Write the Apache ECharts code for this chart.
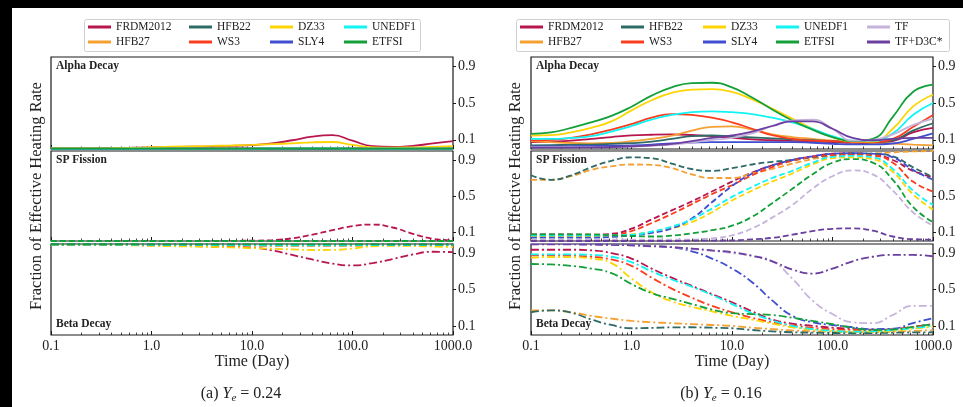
<!DOCTYPE html>
<html>
<head>
<meta charset="utf-8">
<script src="https://cdn.jsdelivr.net/npm/echarts@6/dist/echarts.min.js"></script>
<style>
html, body { margin: 0; padding: 0; background: #fff; }
#chart { width: 963px; height: 407px; }
</style>
</head>
<body>
<div id="chart"></div>
<script>
// Sample times (days), five per decade, shared by every curve
const days = [0.1, 0.158, 0.251, 0.398, 0.631, 1, 1.585, 2.512, 3.981, 6.31, 10,
  15.85, 25.12, 39.81, 63.1, 100, 158.5, 251.2, 398.1, 631, 1000];

// Decade tick labels and minor tick positions on the time axis
const timeTicks = [0.1, 1, 10, 100, 1000];
const minorTimeTicks = [0.2, 0.3, 0.4, 0.5, 0.6, 0.7, 0.8, 0.9, 2, 3, 4, 5, 6, 7, 8, 9,
  20, 30, 40, 50, 60, 70, 80, 90, 200, 300, 400, 500, 600, 700, 800, 900];
const fractionTicks = [0.1, 0.5, 0.9];

const modelsA = ['FRDM2012', 'HFB27', 'HFB22', 'WS3', 'DZ33', 'SLY4', 'UNEDF1', 'ETFSI'];
const modelsB = ['FRDM2012', 'HFB27', 'HFB22', 'WS3', 'DZ33', 'SLY4', 'UNEDF1', 'ETFSI', 'TF', 'TF+D3C*'];

// ---- Ye = 0.24 ----
const alphaA = {
  'FRDM2012': [0.008, 0.008, 0.009, 0.011, 0.014, 0.018, 0.021, 0.025, 0.029, 0.035, 0.042, 0.06, 0.095, 0.135, 0.15, 0.09, 0.03, 0.022, 0.035, 0.06, 0.085],
  'HFB27':    [0.003, 0.003, 0.003, 0.003, 0.003, 0.004, 0.004, 0.004, 0.004, 0.005, 0.005, 0.005, 0.005, 0.005, 0.005, 0.004, 0.004, 0.004, 0.004, 0.004, 0.004],
  'HFB22':    [0.003, 0.003, 0.003, 0.003, 0.003, 0.003, 0.003, 0.004, 0.004, 0.004, 0.005, 0.005, 0.005, 0.005, 0.005, 0.004, 0.004, 0.004, 0.004, 0.004, 0.004],
  'WS3':      [0.004, 0.004, 0.004, 0.004, 0.004, 0.005, 0.005, 0.005, 0.006, 0.006, 0.007, 0.007, 0.007, 0.007, 0.007, 0.006, 0.005, 0.005, 0.005, 0.005, 0.006],
  'DZ33':     [0.006, 0.006, 0.007, 0.008, 0.011, 0.02, 0.025, 0.029, 0.033, 0.038, 0.045, 0.053, 0.062, 0.072, 0.076, 0.045, 0.018, 0.015, 0.018, 0.024, 0.03],
  'SLY4':     [0.002, 0.002, 0.002, 0.002, 0.002, 0.003, 0.003, 0.003, 0.003, 0.003, 0.004, 0.004, 0.004, 0.004, 0.004, 0.003, 0.003, 0.003, 0.003, 0.003, 0.003],
  'UNEDF1':   [0.003, 0.003, 0.003, 0.003, 0.003, 0.004, 0.004, 0.004, 0.005, 0.005, 0.005, 0.006, 0.006, 0.006, 0.006, 0.005, 0.004, 0.004, 0.004, 0.004, 0.005],
  'ETFSI':    [0.003, 0.003, 0.003, 0.003, 0.003, 0.003, 0.004, 0.004, 0.004, 0.004, 0.004, 0.005, 0.005, 0.005, 0.005, 0.004, 0.004, 0.004, 0.004, 0.004, 0.004]
};
const fissionA = {
  'FRDM2012': [0, 0, 0, 0, 0, 0, 0, 0, 0.001, 0.002, 0.004, 0.01, 0.03, 0.07, 0.12, 0.165, 0.183, 0.15, 0.08, 0.025, 0.007],
  'HFB27':    [0, 0, 0, 0, 0, 0, 0, 0, 0, 0, 0, 0, 0, 0, 0, 0, 0, 0, 0, 0, 0],
  'HFB22':    [0, 0, 0, 0, 0, 0, 0, 0, 0, 0, 0, 0, 0, 0, 0, 0, 0, 0, 0, 0, 0],
  'WS3':      [0, 0, 0, 0, 0, 0, 0, 0, 0, 0, 0, 0, 0, 0, 0, 0, 0, 0, 0, 0, 0],
  'DZ33':     [0, 0, 0, 0, 0, 0, 0, 0, 0, 0, 0, 0, 0, 0, 0, 0, 0, 0, 0, 0, 0],
  'SLY4':     [0, 0, 0, 0, 0, 0, 0, 0, 0, 0, 0, 0, 0, 0, 0, 0, 0, 0, 0, 0, 0],
  'UNEDF1':   [0, 0, 0, 0, 0, 0, 0, 0, 0, 0, 0, 0, 0, 0, 0, 0, 0, 0, 0, 0, 0],
  'ETFSI':    [0, 0, 0, 0, 0, 0, 0, 0, 0, 0, 0, 0, 0, 0, 0, 0, 0, 0, 0, 0, 0]
};
const betaA = {
  'FRDM2012': [0.99, 0.99, 0.99, 0.99, 0.988, 0.985, 0.982, 0.978, 0.972, 0.967, 0.96, 0.93, 0.88, 0.83, 0.785, 0.764, 0.79, 0.835, 0.885, 0.915, 0.91],
  'HFB27':    [0.993, 0.993, 0.993, 0.993, 0.992, 0.99, 0.988, 0.986, 0.985, 0.983, 0.982, 0.98, 0.98, 0.98, 0.98, 0.982, 0.984, 0.986, 0.986, 0.986, 0.986],
  'HFB22':    [0.994, 0.994, 0.994, 0.994, 0.993, 0.992, 0.991, 0.99, 0.99, 0.989, 0.988, 0.987, 0.987, 0.987, 0.987, 0.988, 0.989, 0.99, 0.99, 0.99, 0.99],
  'WS3':      [0.992, 0.992, 0.992, 0.992, 0.991, 0.99, 0.989, 0.987, 0.986, 0.985, 0.985, 0.984, 0.984, 0.984, 0.984, 0.985, 0.986, 0.988, 0.988, 0.988, 0.988],
  'DZ33':     [0.99, 0.99, 0.99, 0.99, 0.986, 0.98, 0.976, 0.972, 0.968, 0.962, 0.955, 0.948, 0.94, 0.934, 0.935, 0.95, 0.975, 0.98, 0.978, 0.972, 0.965],
  'SLY4':     [0.995, 0.995, 0.995, 0.995, 0.995, 0.994, 0.993, 0.993, 0.992, 0.992, 0.991, 0.99, 0.99, 0.99, 0.99, 0.991, 0.992, 0.992, 0.992, 0.992, 0.992],
  'UNEDF1':   [0.994, 0.994, 0.994, 0.994, 0.993, 0.992, 0.991, 0.99, 0.989, 0.988, 0.987, 0.986, 0.986, 0.986, 0.986, 0.987, 0.988, 0.99, 0.99, 0.99, 0.99],
  'ETFSI':    [0.997, 0.997, 0.997, 0.997, 0.997, 0.996, 0.996, 0.996, 0.996, 0.995, 0.995, 0.995, 0.995, 0.995, 0.995, 0.995, 0.996, 0.996, 0.996, 0.996, 0.996]
};

// ---- Ye = 0.16 ----
const alphaB = {
  'FRDM2012': [0.075, 0.08, 0.09, 0.11, 0.13, 0.147, 0.155, 0.158, 0.152, 0.14, 0.12, 0.105, 0.095, 0.088, 0.082, 0.075, 0.066, 0.064, 0.085, 0.18, 0.23],
  'HFB27':    [0.085, 0.075, 0.065, 0.062, 0.065, 0.085, 0.11, 0.145, 0.2, 0.24, 0.245, 0.21, 0.16, 0.13, 0.11, 0.09, 0.08, 0.068, 0.058, 0.048, 0.04],
  'HFB22':    [0.04, 0.042, 0.045, 0.048, 0.055, 0.064, 0.08, 0.11, 0.14, 0.147, 0.136, 0.125, 0.115, 0.105, 0.095, 0.085, 0.078, 0.075, 0.095, 0.2, 0.28],
  'WS3':      [0.093, 0.1, 0.12, 0.16, 0.21, 0.27, 0.34, 0.38, 0.37, 0.34, 0.29, 0.22, 0.15, 0.11, 0.09, 0.085, 0.075, 0.075, 0.11, 0.24, 0.37],
  'DZ33':     [0.147, 0.15, 0.18, 0.23, 0.3, 0.42, 0.53, 0.61, 0.645, 0.65, 0.62, 0.54, 0.44, 0.33, 0.22, 0.13, 0.08, 0.08, 0.22, 0.46, 0.59],
  'SLY4':     [0.027, 0.028, 0.03, 0.033, 0.036, 0.04, 0.048, 0.06, 0.07, 0.075, 0.075, 0.075, 0.075, 0.075, 0.068, 0.057, 0.05, 0.05, 0.06, 0.11, 0.17],
  'UNEDF1':   [0.11, 0.11, 0.12, 0.14, 0.19, 0.25, 0.32, 0.37, 0.4, 0.41, 0.4, 0.38, 0.34, 0.29, 0.22, 0.14, 0.09, 0.09, 0.17, 0.37, 0.5],
  'ETFSI':    [0.165, 0.18, 0.23, 0.29, 0.36, 0.46, 0.58, 0.67, 0.715, 0.72, 0.67, 0.56, 0.43, 0.31, 0.21, 0.13, 0.085, 0.11, 0.35, 0.62, 0.7],
  'TF':       [0.02, 0.02, 0.02, 0.02, 0.021, 0.025, 0.035, 0.047, 0.07, 0.1, 0.12, 0.17, 0.25, 0.31, 0.32, 0.22, 0.09, 0.1, 0.16, 0.26, 0.33],
  'TF+D3C*':  [0.015, 0.015, 0.016, 0.018, 0.022, 0.03, 0.04, 0.055, 0.085, 0.12, 0.147, 0.19, 0.25, 0.3, 0.3, 0.22, 0.12, 0.095, 0.11, 0.12, 0.12]
};
const fissionB = {
  'FRDM2012': [0.074, 0.074, 0.072, 0.07, 0.08, 0.137, 0.24, 0.34, 0.44, 0.55, 0.66, 0.76, 0.84, 0.9, 0.94, 0.97, 0.975, 0.965, 0.9, 0.78, 0.71],
  'HFB27':    [0.68, 0.68, 0.72, 0.79, 0.83, 0.85, 0.845, 0.81, 0.74, 0.7, 0.7, 0.75, 0.8, 0.86, 0.91, 0.945, 0.96, 0.97, 0.985, 0.995, 1.0],
  'HFB22':    [0.73, 0.68, 0.73, 0.82, 0.89, 0.93, 0.92, 0.86, 0.8, 0.78, 0.81, 0.85, 0.88, 0.9, 0.93, 0.955, 0.97, 0.97, 0.94, 0.82, 0.71],
  'WS3':      [0.05, 0.05, 0.05, 0.05, 0.06, 0.11, 0.2, 0.3, 0.41, 0.52, 0.62, 0.73, 0.82, 0.89, 0.935, 0.955, 0.96, 0.95, 0.87, 0.66, 0.55],
  'DZ33':     [0.05, 0.05, 0.05, 0.05, 0.05, 0.074, 0.1, 0.14, 0.21, 0.32, 0.45, 0.56, 0.66, 0.75, 0.85, 0.92, 0.93, 0.91, 0.77, 0.52, 0.35],
  'SLY4':     [0.037, 0.037, 0.037, 0.038, 0.045, 0.063, 0.09, 0.14, 0.25, 0.43, 0.61, 0.75, 0.84, 0.9, 0.94, 0.97, 0.975, 0.97, 0.93, 0.79, 0.68],
  'UNEDF1':   [0.063, 0.063, 0.063, 0.063, 0.063, 0.07, 0.105, 0.16, 0.24, 0.36, 0.49, 0.6, 0.7, 0.78, 0.87, 0.935, 0.945, 0.93, 0.8, 0.56, 0.4],
  'ETFSI':    [0.074, 0.074, 0.074, 0.072, 0.065, 0.055, 0.05, 0.06, 0.085, 0.12, 0.17, 0.27, 0.42, 0.58, 0.74, 0.87, 0.91, 0.87, 0.68, 0.38, 0.21],
  'TF':       [0.014, 0.014, 0.014, 0.014, 0.014, 0.014, 0.014, 0.014, 0.016, 0.03, 0.063, 0.14, 0.26, 0.4, 0.58, 0.72, 0.785, 0.74, 0.56, 0.32, 0.17],
  'TF+D3C*':  [0, 0, 0, 0, 0, 0, 0, 0, 0.003, 0.005, 0.007, 0.018, 0.035, 0.07, 0.11, 0.135, 0.14, 0.115, 0.05, 0.02, 0.015]
};
const betaB = {
  'FRDM2012': [0.937, 0.937, 0.937, 0.93, 0.9, 0.84, 0.73, 0.63, 0.54, 0.45, 0.36, 0.26, 0.17, 0.125, 0.1, 0.08, 0.068, 0.058, 0.065, 0.09, 0.12],
  'HFB27':    [0.27, 0.27, 0.25, 0.21, 0.18, 0.155, 0.14, 0.13, 0.12, 0.11, 0.1, 0.08, 0.065, 0.05, 0.042, 0.037, 0.032, 0.03, 0.035, 0.045, 0.052],
  'HFB22':    [0.25, 0.27, 0.245, 0.17, 0.11, 0.074, 0.078, 0.084, 0.085, 0.08, 0.074, 0.055, 0.04, 0.03, 0.026, 0.022, 0.022, 0.022, 0.025, 0.028, 0.03],
  'WS3':      [0.874, 0.874, 0.872, 0.86, 0.83, 0.76, 0.63, 0.51, 0.41, 0.32, 0.25, 0.19, 0.14, 0.105, 0.08, 0.063, 0.055, 0.052, 0.06, 0.085, 0.12],
  'DZ33':     [0.85, 0.857, 0.855, 0.84, 0.79, 0.62, 0.47, 0.37, 0.31, 0.26, 0.21, 0.17, 0.125, 0.085, 0.06, 0.045, 0.037, 0.037, 0.045, 0.07, 0.09],
  'SLY4':     [1.0, 1.0, 1.0, 0.998, 0.995, 0.99, 0.98, 0.965, 0.92, 0.84, 0.73, 0.58, 0.38, 0.21, 0.14, 0.11, 0.085, 0.065, 0.07, 0.13, 0.185],
  'UNEDF1':   [0.885, 0.885, 0.885, 0.88, 0.86, 0.8, 0.7, 0.61, 0.53, 0.44, 0.34, 0.24, 0.16, 0.1, 0.065, 0.045, 0.037, 0.04, 0.055, 0.075, 0.1],
  'ETFSI':    [0.78, 0.775, 0.76, 0.73, 0.68, 0.56, 0.46, 0.4, 0.34, 0.28, 0.24, 0.23, 0.22, 0.19, 0.155, 0.12, 0.08, 0.055, 0.06, 0.09, 0.12],
  'TF':       [1.0, 1.0, 1.0, 0.995, 0.99, 0.985, 0.978, 0.965, 0.945, 0.925, 0.9, 0.87, 0.81, 0.62, 0.38, 0.23, 0.14, 0.13, 0.22, 0.32, 0.32],
  'TF+D3C*':  [0.995, 0.995, 0.995, 0.993, 0.99, 0.985, 0.975, 0.965, 0.95, 0.93, 0.91, 0.87, 0.81, 0.72, 0.675, 0.73, 0.81, 0.86, 0.88, 0.88, 0.865]
};

const modelColors = {
  'FRDM2012': '#b8164e',
  'HFB27': '#f5a033',
  'HFB22': '#2f6a66',
  'WS3': '#fb3d1f',
  'DZ33': '#fdd404',
  'SLY4': '#3f4ed0',
  'UNEDF1': '#12f4f4',
  'ETFSI': '#13a03a',
  'TF': '#c6b3dc',
  'TF+D3C*': '#6b3fa0'
};

const SERIF = '"Liberation Serif", "DejaVu Serif", serif';
const INK = '#222';

// Panel geometry: two figures side by side, three stacked panels each
const figLeft = [51, 531];
const figWidth = 402;
const panelTop = [57, 151, 244];
const panelHeight = [92, 90, 91];

const grids = [], xAxes = [], yAxes = [], series = [];

function addPanel(fig, row, models, values, dash) {
  const idx = grids.length;
  grids.push({
    left: figLeft[fig], top: panelTop[row], width: figWidth, height: panelHeight[row],
    show: true, borderColor: '#1a1a1a', borderWidth: 1.2, backgroundColor: 'transparent'
  });
  const isBottom = row === 2;
  // main time axis with decade ticks
  xAxes.push({
    type: 'log', logBase: 10, min: 0.1, max: 1000, gridIndex: idx, position: 'bottom',
    axisLine: { show: false },
    axisTick: { show: true, inside: true, length: 4, lineStyle: { color: '#1a1a1a', width: 1 }, customValues: timeTicks },
    axisLabel: {
      show: isBottom, margin: 4, customValues: timeTicks,
      fontFamily: SERIF, fontSize: 14, color: INK,
      formatter: v => Number(v).toFixed(1)
    },
    splitLine: { show: false }
  });
  // overlay axis for minor ticks
  xAxes.push({
    type: 'log', logBase: 10, min: 0.1, max: 1000, gridIndex: idx, position: 'bottom',
    axisLine: { show: false },
    axisTick: { show: true, inside: true, length: 2.5, lineStyle: { color: '#1a1a1a', width: 0.8 }, customValues: minorTimeTicks },
    axisLabel: { show: false },
    splitLine: { show: false }
  });
  yAxes.push({
    type: 'value', min: 0, max: 1, gridIndex: idx, position: 'right',
    axisLine: { show: false },
    axisTick: { show: true, inside: false, length: 3, lineStyle: { color: '#1a1a1a' }, customValues: fractionTicks },
    axisLabel: {
      show: true, margin: 5, customValues: fractionTicks,
      fontFamily: SERIF, fontSize: 14, color: INK,
      formatter: v => Number(v).toFixed(1)
    },
    splitLine: { show: false }
  });
  models.forEach(m => {
    series.push({
      type: 'line', name: m,
      xAxisIndex: idx * 2, yAxisIndex: idx,
      data: days.map((d, i) => [d, values[m][i]]),
      smooth: 0.5,
      showSymbol: false, symbol: 'none',
      lineStyle: { color: modelColors[m], width: 1.8, type: dash },
      itemStyle: { color: modelColors[m] },
      emphasis: { disabled: true },
      silent: true, clip: true
    });
  });
}

const SOLID = 'solid';
const DASHED = [6, 3];
const DASHDOT = [8, 3, 2, 3];

addPanel(0, 0, modelsA, alphaA, SOLID);
addPanel(0, 1, modelsA, fissionA, DASHED);
addPanel(0, 2, modelsA, betaA, DASHDOT);
addPanel(1, 0, modelsB, alphaB, SOLID);
addPanel(1, 1, modelsB, fissionB, DASHED);
addPanel(1, 2, modelsB, betaB, DASHDOT);

// Legends laid out as two-row columns
function legendColumn(names, left) {
  return {
    orient: 'vertical', left: left, top: 20, padding: 0, itemGap: 1,
    itemWidth: 23, itemHeight: 3, icon: 'rect',
    data: names,
    selectedMode: false,
    textStyle: { fontFamily: SERIF, fontSize: 11.5, lineHeight: 14, color: INK }
  };
}
const legends = [
  legendColumn(['FRDM2012', 'HFB27'], 88),
  legendColumn(['HFB22', 'WS3'], 189),
  legendColumn(['DZ33', 'SLY4'], 270),
  legendColumn(['UNEDF1', 'ETFSI'], 344),
  legendColumn(['FRDM2012', 'HFB27'], 520),
  legendColumn(['HFB22', 'WS3'], 621),
  legendColumn(['DZ33', 'SLY4'], 703),
  legendColumn(['UNEDF1', 'ETFSI'], 776),
  legendColumn(['TF', 'TF+D3C*'], 867)
];

function panelLabel(text, x, y) {
  return {
    type: 'text', left: x, top: y, z: 10,
    style: { text: text, fontFamily: SERIF, fontSize: 11.5, fontWeight: 'bold', fill: INK }
  };
}
function caption(tag, value, cx) {
  return {
    type: 'text', x: cx, y: 394, z: 10,
    style: {
      text: '{n|' + tag + ' }{i|Y}{s|e}{n| = ' + value + '}',
      align: 'center', verticalAlign: 'middle',
      rich: {
        n: { fontFamily: SERIF, fontSize: 16, lineHeight: 20, fill: INK },
        i: { fontFamily: SERIF, fontSize: 16, lineHeight: 20, fontStyle: 'italic', fill: INK },
        s: { fontFamily: SERIF, fontSize: 11, lineHeight: 9, verticalAlign: 'bottom', fontStyle: 'italic', fill: INK }
      }
    }
  };
}
function yTitle(cx) {
  return {
    type: 'text', x: cx, y: 196, rotation: Math.PI / 2, z: 10,
    style: {
      text: 'Fraction of Effective Heating Rate', align: 'center', verticalAlign: 'middle',
      fontFamily: SERIF, fontSize: 16.5, fill: INK
    }
  };
}
function xTitle(cx) {
  return {
    type: 'text', x: cx, y: 362, z: 10,
    style: { text: 'Time (Day)', align: 'center', verticalAlign: 'middle', fontFamily: SERIF, fontSize: 16, fill: INK }
  };
}

const graphics = [
  // legend frames
  { type: 'rect', z: 0, shape: { x: 84.5, y: 19.5, width: 336, height: 32, r: 2 }, style: { fill: '#fff', stroke: '#cfcfcf', lineWidth: 1 } },
  { type: 'rect', z: 0, shape: { x: 516.5, y: 19.5, width: 433, height: 32, r: 2 }, style: { fill: '#fff', stroke: '#cfcfcf', lineWidth: 1 } },
  panelLabel('Alpha Decay', 56, 60),
  panelLabel('SP Fission', 56, 154),
  panelLabel('Beta Decay', 56, 318),
  panelLabel('Alpha Decay', 536, 60),
  panelLabel('SP Fission', 536, 154),
  panelLabel('Beta Decay', 536, 318),
  yTitle(37), yTitle(516),
  xTitle(252), xTitle(732),
  caption('(a)', '0.24', 241),
  caption('(b)', '0.16', 721),
  // dark page margins
  { type: 'rect', z: 100, shape: { x: 0, y: 0, width: 963, height: 8 }, style: { fill: '#000' } },
  { type: 'rect', z: 100, shape: { x: 0, y: 0, width: 12, height: 407 }, style: { fill: '#000' } }
];

const chart = echarts.init(document.getElementById('chart'), null, { renderer: 'canvas' });
chart.setOption({
  backgroundColor: '#fff',
  animation: false,
  legend: legends,
  grid: grids,
  xAxis: xAxes,
  yAxis: yAxes,
  series: series,
  graphic: graphics
});
</script>
</body>
</html>
